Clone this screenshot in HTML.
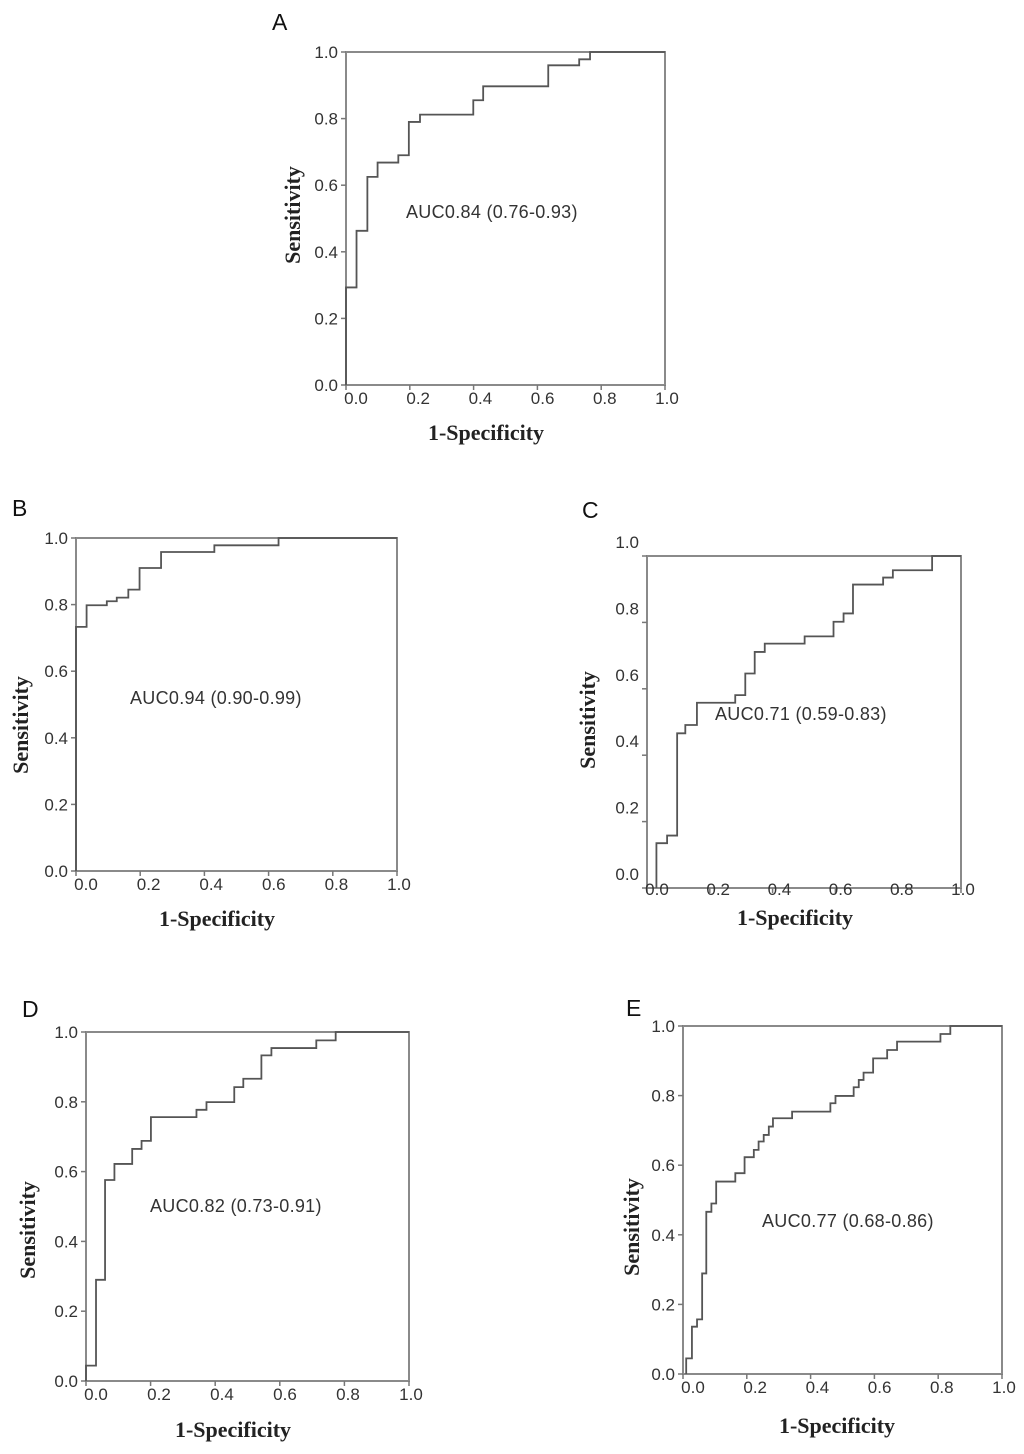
<!DOCTYPE html>
<html><head><meta charset="utf-8">
<style>
html,body{margin:0;padding:0;background:#fff;}
svg{display:block;}
.tk{font-family:"Liberation Sans",sans-serif;font-size:17px;fill:#333;}
.auc{font-family:"Liberation Sans",sans-serif;font-size:18px;fill:#333;letter-spacing:0.3px;}
.ttl{font-family:"Liberation Serif",serif;font-size:22px;font-weight:bold;fill:#222;}
.let{font-family:"Liberation Sans",sans-serif;font-size:23px;fill:#111;}
</style></head>
<body>
<svg id="fig" width="1024" height="1454" viewBox="0 0 1024 1454" xmlns="http://www.w3.org/2000/svg"></svg>
<script>
const tickValues = [0, 0.2, 0.4, 0.6, 0.8, 1.0];
const tickLabels = ["0.0", "0.2", "0.4", "0.6", "0.8", "1.0"];
const panelLetters = ["A", "B", "C", "D", "E"];
const aucLabels = ["AUC0.84 (0.76-0.93)", "AUC0.94 (0.90-0.99)", "AUC0.71 (0.59-0.83)", "AUC0.82 (0.73-0.91)", "AUC0.77 (0.68-0.86)"];
const aFpr = [0, 0.033, 0.067, 0.099, 0.164, 0.197, 0.232, 0.399, 0.43, 0.634, 0.731, 0.765];
const aTpr = [0.293, 0.463, 0.625, 0.668, 0.69, 0.79, 0.812, 0.855, 0.897, 0.96, 0.978, 1.0];
const bFpr = [0, 0.033, 0.096, 0.127, 0.163, 0.198, 0.265, 0.431, 0.631];
const bTpr = [0.733, 0.798, 0.81, 0.821, 0.845, 0.91, 0.958, 0.978, 1.0];
const cFpr = [0.03, 0.064, 0.096, 0.122, 0.159, 0.281, 0.313, 0.343, 0.375, 0.502, 0.594, 0.626, 0.656, 0.752, 0.783, 0.908];
const cTpr = [0.135, 0.158, 0.466, 0.491, 0.558, 0.581, 0.646, 0.711, 0.736, 0.758, 0.802, 0.827, 0.914, 0.935, 0.957, 1.0];
const dFpr = [0, 0.031, 0.059, 0.088, 0.143, 0.172, 0.201, 0.342, 0.373, 0.459, 0.487, 0.543, 0.574, 0.713, 0.773];
const dTpr = [0.044, 0.29, 0.576, 0.622, 0.665, 0.688, 0.756, 0.777, 0.799, 0.842, 0.866, 0.933, 0.954, 0.976, 1.0];
const eFpr = [0.01, 0.028, 0.044, 0.06, 0.073, 0.089, 0.104, 0.164, 0.193, 0.222, 0.237, 0.253, 0.269, 0.282, 0.342, 0.462, 0.478, 0.535, 0.551, 0.566, 0.596, 0.64, 0.671, 0.807, 0.838];
const eTpr = [0.045, 0.136, 0.157, 0.289, 0.466, 0.49, 0.553, 0.577, 0.623, 0.644, 0.668, 0.687, 0.711, 0.735, 0.754, 0.778, 0.799, 0.824, 0.845, 0.866, 0.907, 0.931, 0.955, 0.977, 1.0];
const fprs = [aFpr, bFpr, cFpr, dFpr, eFpr];
const tprs = [aTpr, bTpr, cTpr, dTpr, eTpr];

const layout = [
  {L:346,R:665,T:52,B:385,lx:272,ly:30,ax:406,ay:218,yx:293,yy:215,xx:486,xy:440,ylOff:0,xlY:19},
  {L:76,R:397,T:538,B:871,lx:12,ly:516,ax:130,ay:704,yx:21,yy:725,xx:217,xy:926,ylOff:0,xlY:19},
  {L:647,R:961,T:556,B:888,lx:582,ly:518,ax:715,ay:720,yx:588,yy:720,xx:795,xy:925,ylOff:-14,xlY:7},
  {L:86,R:409,T:1032,B:1381,lx:22,ly:1017,ax:150,ay:1212,yx:28,yy:1230,xx:233,xy:1437,ylOff:0,xlY:19},
  {L:683,R:1002,T:1026,B:1374,lx:626,ly:1016,ax:762,ay:1227,yx:632,yy:1227,xx:837,xy:1433,ylOff:0,xlY:19}
];
const NS = "http://www.w3.org/2000/svg";
const svg = document.getElementById('fig');
function mk(tag, attrs, parent){const e=document.createElementNS(NS,tag);for(const k in attrs)e.setAttribute(k,attrs[k]);parent.appendChild(e);return e;}

layout.forEach((p, i) => {
  const g = mk('g', {}, svg);
  
  
  const sx = v => p.L + v * (p.R - p.L);
  const sy = v => p.B - v * (p.B - p.T);
  const letter = mk('text', {x:p.lx, y:p.ly, class:'let'}, g);
  letter.textContent = panelLetters[i];
  
  
  const frame = mk('rect', {x:p.L, y:p.T, width:p.R-p.L, height:p.B-p.T, fill:'none', stroke:'#8a8a8a', 'stroke-width':2}, g);
  
  
  tickValues.forEach((v, k) => {
    const y = sy(v);
    const tk = mk('line', {x1:p.L-5, x2:p.L, y1:y, y2:y, stroke:'#777', 'stroke-width':1.5}, g);
    
    
    const yl = mk('text', {x:p.L-8, y:y+6+p.ylOff, 'text-anchor':'end', class:'tk'}, g);
    yl.textContent = tickLabels[k];
    
    
    const x = p.L + 10 + v * (p.R - p.L - 8);
    const xt = mk('line', {x1:sx(v), x2:sx(v), y1:p.B, y2:p.B+5, stroke:'#777', 'stroke-width':1.5}, g);
    
    
    const xl = mk('text', {x:x, y:p.B+p.xlY, 'text-anchor':'middle', class:'tk'}, g);
    xl.textContent = tickLabels[k];
    
    
  });
  const xs = fprs[i], ys = tprs[i];
  let d = 'M' + sx(xs[0]) + ' ' + sy(0);
  for (let k = 0; k < xs.length; k++) {
    d += ' H' + sx(xs[k]) + ' V' + sy(ys[k]);
  }
  d += ' H' + sx(1);
  const path = mk('path', {d:d, fill:'none', stroke:'#555', 'stroke-width':1.8}, g);
  
  
  const auc = mk('text', {x:p.ax, y:p.ay, class:'auc'}, g);
  auc.textContent = aucLabels[i];
  
  
  const yt = mk('text', {x:0, y:0, 'text-anchor':'middle', class:'ttl', transform:'translate(' + (p.yx+7) + ',' + p.yy + ') rotate(-90)'}, g);
  yt.textContent = 'Sensitivity';
  
  
  const xt2 = mk('text', {x:p.xx, y:p.xy, 'text-anchor':'middle', class:'ttl'}, g);
  xt2.textContent = '1-Specificity';
  
  
});
</script>
</body></html>
